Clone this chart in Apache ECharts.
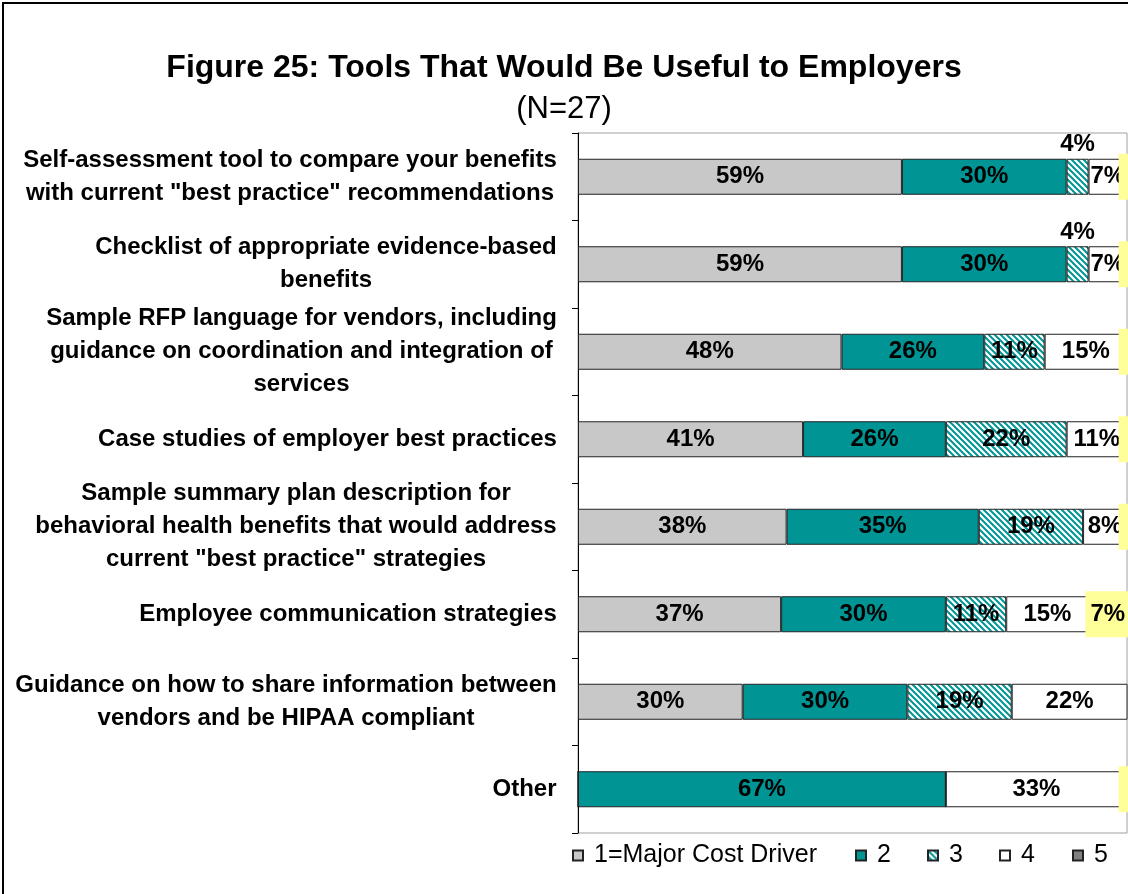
<!DOCTYPE html>
<html>
<head>
<meta charset="utf-8">
<script src="https://cdn.jsdelivr.net/npm/echarts@6/dist/echarts.min.js"></script>
<style>
  html, body { margin: 0; padding: 0; background: #fff; }
  #chart { width: 1128px; height: 894px; }
</style>
</head>
<body>
<div id="chart"></div>
<script>
// Survey items (line breaks follow the wrapped axis labels)
const categories = [
  'Self-assessment tool to compare your benefits\nwith current "best practice" recommendations',
  'Checklist of appropriate evidence-based\nbenefits',
  'Sample RFP language for vendors, including\nguidance on coordination and integration of\nservices',
  'Case studies of employer best practices',
  'Sample summary plan description for\nbehavioral health benefits that would address\ncurrent "best practice" strategies',
  'Employee communication strategies',
  'Guidance on how to share information between\nvendors and be HIPAA compliant',
  'Other'
];
const seriesNames = ['1=Major Cost Driver', '2', '3', '4', '5'];

// Percent of respondents per rating
const rating1 = [59, 59, 48, 41, 38, 37, 30, 0];
const rating2 = [30, 30, 26, 26, 35, 30, 30, 67];
const rating3 = [4, 4, 11, 22, 19, 11, 19, 0];
const rating4 = [7, 7, 15, 11, 8, 15, 22, 33];
const rating5 = [0, 0, 0, 0, 0, 7, 0, 0];

const FONT = '"Liberation Sans", Arial, Helvetica, sans-serif';
const TEAL = '#009494';

// Diagonal teal hatch on white for rating 3
function hatchPattern() {
  const c = document.createElement('canvas');
  c.width = 6; c.height = 6;
  const g = c.getContext('2d');
  g.fillStyle = '#ffffff';
  g.fillRect(0, 0, 6, 6);
  g.strokeStyle = TEAL;
  g.lineWidth = 2;
  g.beginPath();
  g.moveTo(-1, -1); g.lineTo(7, 7);
  g.moveTo(-1, 5); g.lineTo(1, 7);
  g.moveTo(5, -1); g.lineTo(7, 1);
  g.stroke();
  return c;
}

// Multi-line axis labels: lines centred on each other, block right-aligned
const measureCtx = document.createElement('canvas').getContext('2d');
measureCtx.font = 'bold 24px ' + FONT;
const labelRich = {};
categories.forEach((cat, i) => {
  const w = Math.max(...cat.split('\n').map(l => measureCtx.measureText(l).width));
  labelRich['c' + i] = {
    width: Math.ceil(w) + 2, align: 'center',
    fontSize: 24, fontWeight: 'bold', fontFamily: FONT, color: '#000', lineHeight: 33
  };
});

const barLabel = {
  show: true, position: 'inside', color: '#000',
  fontSize: 24, fontWeight: 'bold', fontFamily: FONT,
  formatter: p => (p.value ? p.value + '%' : '')
};
const edge = { borderColor: '#222', borderWidth: 1 };

function bar(name, values, color, extra) {
  return Object.assign({
    name, type: 'bar', stack: 'total', barWidth: 36,
    itemStyle: Object.assign({ color }, edge),
    label: barLabel,
    data: values
  }, extra || {});
}

// Slivers too thin for their label get it above the bar
const s3data = rating3.map(v => v > 0 && v < 6
  ? { value: v, label: { position: 'top', distance: 2 } }
  : v);

const series = [
  bar(seriesNames[0], rating1, '#C8C8C8'),
  bar(seriesNames[1], rating2, TEAL),
  bar(seriesNames[2], s3data, { image: hatchPattern(), repeat: 'repeat' }),
  bar(seriesNames[3], rating4, '#FFFFFF'),
  bar(seriesNames[4], rating5, '#808080', {
    label: {
      show: true, position: 'inside', color: '#000',
      fontSize: 24, fontWeight: 'bold', fontFamily: FONT,
      backgroundColor: '#FFFF99', padding: [11, 5], lineHeight: 24,
      formatter: p => (p.value ? p.value + '%' : ' ')
    }
  })
];

const legendLefts = [572, 855, 927, 999, 1072];

const chart = echarts.init(document.getElementById('chart'), null, { renderer: 'canvas' });
chart.setOption({
  animation: false,
  backgroundColor: '#ffffff',
  title: [
    {
      text: 'Figure 25: Tools That Would Be Useful to Employers',
      left: 'center', top: 47,
      textStyle: { fontSize: 32, fontWeight: 'bold', fontFamily: FONT, color: '#000' }
    },
    {
      text: '(N=27)',
      left: 'center', top: 89,
      textStyle: { fontSize: 31, fontWeight: 'normal', fontFamily: FONT, color: '#000' }
    }
  ],
  legend: seriesNames.map((n, i) => ({
    data: [n], left: legendLefts[i], top: 843, padding: 0,
    icon: 'rect', itemWidth: 10, itemHeight: 10, itemGap: 0,
    selectedMode: false,
    textStyle: { fontSize: 25, fontFamily: FONT, color: '#000', padding: [0, 0, 0, 6] }
  })),
  grid: {
    left: 578, top: 133, width: 549, height: 700,
    show: true, borderColor: '#A0A0A0', borderWidth: 1, backgroundColor: 'transparent'
  },
  xAxis: {
    type: 'value', min: 0, max: 100, show: false
  },
  yAxis: {
    type: 'category', data: categories, inverse: true,
    axisLine: { show: true, lineStyle: { color: '#000', width: 1 } },
    axisTick: { show: true, length: 6, lineStyle: { color: '#000' } },
    axisLabel: {
      margin: 20, align: 'right',
      formatter: (v, i) => v.split('\n').map(l => '{c' + i + '|' + l + '}').join('\n'),
      rich: labelRich
    }
  },
  series,
  graphic: [
    {
      type: 'rect', silent: true, z: 100,
      shape: { x: 3, y: 3, width: 1300, height: 1000 },
      style: { fill: null, stroke: '#000', lineWidth: 2 }
    }
  ]
});
</script>
</body>
</html>
